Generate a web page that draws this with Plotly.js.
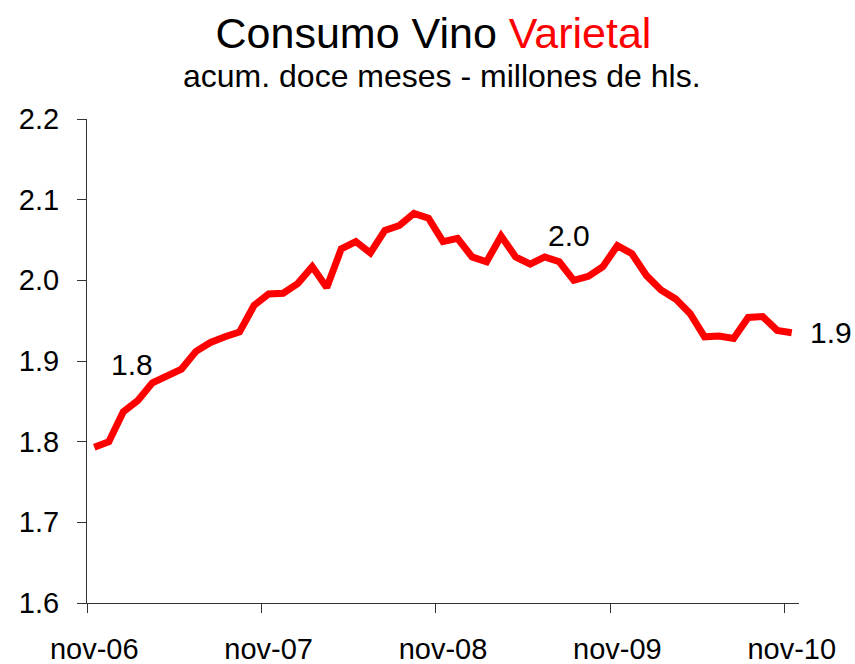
<!DOCTYPE html>
<html>
<head>
<meta charset="utf-8">
<script src="https://cdn.plot.ly/plotly-3.0.1.min.js"></script>
<style>
  html, body { margin: 0; padding: 0; background: #fff; }
  #chart { width: 855px; height: 664px; }
</style>
</head>
<body>
<div id="chart"></div>
<script>
// meses (acumulado doce meses)
const meses = [
    'nov-06', 'dic-06', 'ene-07', 'feb-07', 'mar-07', 'abr-07', 'may-07', 'jun-07', 'jul-07', 'ago-07', 'sep-07', 'oct-07',
    'nov-07', 'dic-07', 'ene-08', 'feb-08', 'mar-08', 'abr-08', 'may-08', 'jun-08', 'jul-08', 'ago-08', 'sep-08', 'oct-08',
    'nov-08', 'dic-08', 'ene-09', 'feb-09', 'mar-09', 'abr-09', 'may-09', 'jun-09', 'jul-09', 'ago-09', 'sep-09', 'oct-09',
    'nov-09', 'dic-09', 'ene-10', 'feb-10', 'mar-10', 'abr-10', 'may-10', 'jun-10', 'jul-10', 'ago-10', 'sep-10', 'oct-10',
    'nov-10'
];

// millones de hl
const consumo = [
    1.793, 1.800, 1.837, 1.851, 1.873, 1.881, 1.890, 1.912, 1.923, 1.930, 1.936, 1.969,
    1.983, 1.984, 1.996, 2.017, 1.991, 2.039, 2.048, 2.034, 2.062, 2.068, 2.083, 2.077,
    2.048, 2.052, 2.029, 2.023, 2.055, 2.029, 2.020, 2.029, 2.023, 2.000, 2.005, 2.017,
    2.043, 2.033, 2.006, 1.988, 1.977, 1.959, 1.930, 1.931, 1.928, 1.954, 1.955, 1.938,
    1.935
];

// etiquetas sobre la linea
const etiquetas = ['1.8', '2.0', '1.9'];
const etiquetasX = [2.6, 32.7, 48];
const etiquetasY = [1.896, 2.055, 1.935];

const titulo = 'Consumo Vino <span style="color:#FF0000">Varietal</span>';
const subtitulo = 'acum. doce meses - millones de hls.';

const FONT = 'Liberation Sans, Arial, sans-serif';

const trace = {
    x: meses,
    y: consumo,
    type: 'scatter',
    mode: 'lines',
    line: { color: '#FF0000', width: 7 },
    hoverinfo: 'x+y'
};

const annotations = etiquetas.map((t, i) => ({
    text: t,
    x: etiquetasX[i],
    y: etiquetasY[i],
    xref: 'x',
    yref: 'y',
    showarrow: false,
    xanchor: i === 2 ? 'left' : 'center',
    yanchor: 'middle',
    xshift: i === 2 ? 16 : 0,
    font: { family: FONT, size: 30, color: '#000' }
}));

// subtitulo como anotacion para controlar la separacion
annotations.push({
    text: subtitulo,
    xref: 'paper',
    yref: 'paper',
    x: 0.498,
    y: 1.0888,
    xanchor: 'center',
    yanchor: 'middle',
    showarrow: false,
    font: { family: FONT, size: 32, color: '#000' }
});

const layout = {
    width: 855,
    height: 664,
    paper_bgcolor: '#fff',
    plot_bgcolor: '#fff',
    margin: { l: 87, r: 56, t: 119, b: 61 },
    showlegend: false,
    font: { family: FONT, color: '#000' },
    title: {
        text: titulo,
        font: { family: FONT, size: 43, color: '#000' },
        x: 0.507,
        xanchor: 'center',
        yref: 'container',
        y: 0.973,
        yanchor: 'top'
    },
    xaxis: {
        type: 'category',
        range: [-0.5, 48.5],
        dtick: 12,
        tickson: 'boundaries',
        tickangle: 0,
        ticks: 'outside',
        ticklen: 9,
        tickcolor: '#333',
        tickwidth: 1,
        showline: true,
        linecolor: '#333',
        linewidth: 1,
        showgrid: false,
        zeroline: false,
        tickfont: { family: FONT, size: 29, color: '#000' },
        ticklabelstandoff: 20
    },
    yaxis: {
        range: [1.6, 2.2],
        dtick: 0.1,
        tickformat: '.1f',
        ticks: 'outside',
        ticklen: 9,
        tickcolor: '#333',
        tickwidth: 1,
        showline: true,
        linecolor: '#333',
        linewidth: 1,
        showgrid: false,
        zeroline: false,
        tickfont: { family: FONT, size: 29, color: '#000' },
        ticklabelstandoff: 12
    },
    annotations: annotations
};

Plotly.newPlot('chart', [trace], layout, { displayModeBar: false, staticPlot: true });
</script>
</body>
</html>
